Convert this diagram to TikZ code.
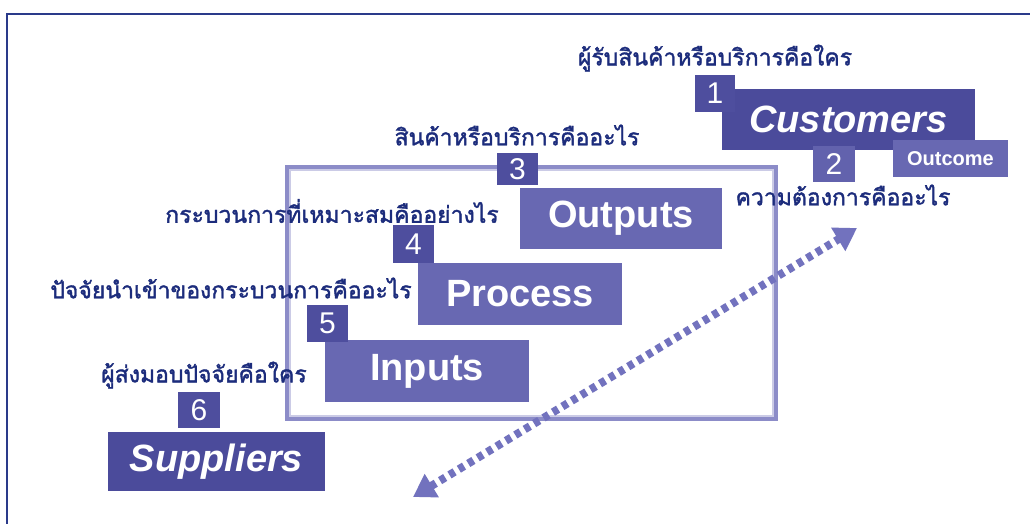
\documentclass[tikz,border=0pt]{standalone}
\usepackage{fontspec}
\setmainfont{Liberation Sans}
\newfontfamily\thaifont[Script=Thai, FakeBold=1.6]{Loma}
\usetikzlibrary{arrows.meta}
\definecolor{darkbox}{HTML}{4B4B9B}
\definecolor{lightbox}{HTML}{6868B2}
\definecolor{numbox}{HTML}{4E4E9E}
\definecolor{thaiink}{HTML}{1C2C7C}
\definecolor{framecol}{HTML}{2A3A8A}
\definecolor{rectcol}{HTML}{8C8CC8}
\definecolor{arrowcol}{HTML}{7272BE}
\tikzset{
  x=1pt, y=1pt,
  mainbox/.style={fill=darkbox, text=white, inner sep=0pt, font=\fontsize{38}{40}\selectfont\bfseries\itshape},
  stagebox/.style={fill=lightbox, text=white, inner sep=0pt, font=\fontsize{38}{40}\selectfont\bfseries},
  numbox/.style={fill=numbox, text=white, inner sep=0pt, font=\fontsize{30}{32}\selectfont},
  outbox/.style={fill=lightbox, text=white, inner sep=0pt, font=\fontsize{20}{22}\selectfont\bfseries},
  question/.style={text=thaiink, inner sep=0pt, font=\thaifont\fontsize{23}{25}\selectfont},
}
\begin{document}
\begin{tikzpicture}
\useasboundingbox (0,0) rectangle (1030,-523);
\fill[white] (0,0) rectangle (1030,-523);
% outer frame
\coordinate (fb) at (7,-530);
\coordinate (fc) at (7,-14);
\coordinate (fr) at (1040,-14);
\draw[framecol, line width=2.5pt] (fb) -- (fc) -- (fr);
% big rectangle
\coordinate (r1) at (287,-167);
\coordinate (r2) at (776,-419);
\draw[rectcol, line width=4.5pt] (r1) rectangle (r2);
\draw[rectcol!45, line width=2pt] ([shift={(3.2,-3.2)}]r1) rectangle ([shift={(-3.2,3.2)}]r2);
% dotted double arrow
\coordinate (aS) at (413,-497);
\coordinate (aE) at (857,-228);
\draw[arrowcol, line width=8pt, dash pattern=on 6pt off 5pt,
  {Triangle[width=26pt,length=22pt]}-{Triangle[width=26pt,length=22pt]}] (aS) -- (aE);
% customers
\node[mainbox, minimum width=253pt, minimum height=61pt] (cust) at (848.5,-119.5) {Customers};
\node[numbox, minimum width=40pt, minimum height=37pt] (n1) at (715,-93.5) {1};
\node[outbox, minimum width=115pt, minimum height=37pt] (outc) at (950.5,-158.5) {Outcome};
\node[numbox, fill=lightbox!80!darkbox, minimum width=42pt, minimum height=36pt] (n2) at (834,-164) {2};
\node[question] (q1) at (715,-58) {ผู้รับสินค้าหรือบริการคือใคร};
\node[question] (q2) at (843,-195) {ความต้องการคืออะไร};
% outputs
\node[question] (q3) at (517,-135) {สินค้าหรือบริการคืออะไร};
\node[stagebox, minimum width=202pt, minimum height=61pt] (outp) at (621,-218.5) {Outputs};
\node[numbox, minimum width=41pt, minimum height=32pt] (n3) at (517.5,-169) {3};
% process
\node[question] (q4) at (332,-211) {กระบวนการที่เหมาะสมคืออย่างไร};
\node[stagebox, minimum width=204pt, minimum height=62pt] (proc) at (520,-294) {Process};
\node[numbox, minimum width=41pt, minimum height=38pt] (n4) at (413.5,-244) {4};
% inputs
\node[question] (q5) at (231,-288) {ปัจจัยนำเข้าของกระบวนการคืออะไร};
\node[stagebox, minimum width=204pt, minimum height=62pt] (inp) at (427,-371) {Inputs};
\node[numbox, minimum width=41pt, minimum height=37pt] (n5) at (327.5,-323.5) {5};
% suppliers
\node[question] (q6) at (204,-375) {ผู้ส่งมอบปัจจัยคือใคร};
\node[mainbox, minimum width=217pt, minimum height=59pt] (supp) at (216.5,-461.5) {Suppliers};
\node[numbox, minimum width=42pt, minimum height=36pt] (n6) at (199,-410) {6};
\end{tikzpicture}
\end{document}
